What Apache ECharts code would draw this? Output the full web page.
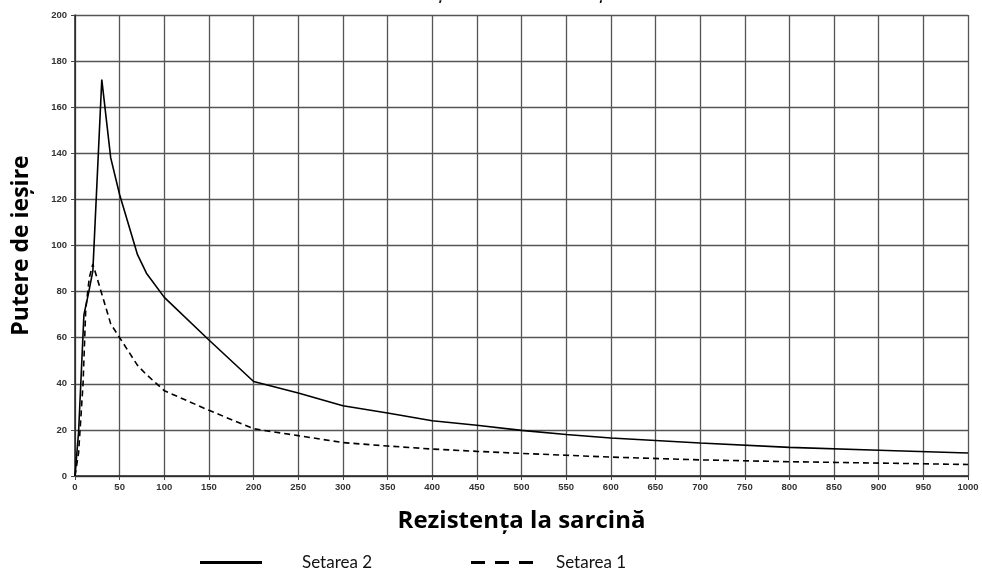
<!DOCTYPE html>
<html>
<head>
<meta charset="utf-8">
<script src="https://cdn.jsdelivr.net/npm/echarts@6/dist/echarts.min.js"></script>
<style>
  html, body { margin: 0; padding: 0; background: #fff; }
  #main { width: 982px; height: 576px; }
</style>
</head>
<body>
<div id="main"></div>
<script>
// Setarea 2 (linie continua)
var rezistenta2 = [0, 4, 10, 15, 20, 30, 40, 50, 70, 80, 100, 150, 200, 250, 300, 350, 400, 450, 500, 550, 600, 700, 800, 900, 1000];
var putere2 = [0, 19, 70, 79, 89, 172, 138, 122, 96, 88, 77.5, 59, 41, 36, 30.5, 27.3, 24, 22, 19.8, 18, 16.5, 14.3, 12.4, 11.2, 10];
// Setarea 1 (linie punctata)
var rezistenta1 = [0, 4, 9, 12, 16, 20, 30, 40, 50, 70, 80, 100, 150, 200, 250, 300, 350, 400, 450, 500, 550, 600, 700, 800, 900, 1000];
var putere1 = [0, 10, 40, 72, 86, 92, 79, 66, 60, 48, 44, 37, 28.5, 20.5, 17.5, 14.5, 13, 11.7, 10.7, 9.8, 9, 8.2, 7, 6.2, 5.6, 5];

function pairs(xs, ys) {
    return xs.map(function (x, i) { return [x, ys[i]]; });
}

var labelFont = '"Liberation Sans Narrow", "Liberation Sans", sans-serif';
var nameFont = '"Open Sans", Lato, sans-serif';
var legendFont = 'Lato, "Open Sans", sans-serif';

var chart = echarts.init(document.getElementById('main'));
chart.setOption({
    animation: false,
    // titlul original e taiat sus, se vad doar virgulele
    title: {
        text: 'Puterea de ieșire versus rezistența la sarcină',
        left: 320,
        top: -21,
        textStyle: { fontFamily: legendFont, fontSize: 19, fontWeight: 'bold', color: '#000' }
    },
    grid: { left: 75, right: 14, top: 15, bottom: 100 },
    legend: [
        {
            data: ['Setarea 2'],
            left: 195,
            top: 549,
            icon: 'rect',
            itemWidth: 62,
            itemHeight: 3,
            textStyle: { fontFamily: legendFont, fontSize: 17, color: '#111', padding: [0, 0, 0, 35] }
        },
        {
            data: ['Setarea 1'],
            left: 466,
            top: 549,
            icon: 'path://M0,0H14V3H0Z M24,0H38V3H24Z M48,0H62V3H48Z',
            itemWidth: 62,
            itemHeight: 3,
            textStyle: { fontFamily: legendFont, fontSize: 17, color: '#111', padding: [0, 0, 0, 18] }
        }
    ],
    xAxis: {
        type: 'value',
        min: 0,
        max: 1000,
        interval: 50,
        name: 'Rezistența la sarcină',
        nameLocation: 'middle',
        nameGap: 33,
        nameTextStyle: { fontFamily: nameFont, fontSize: 24, fontWeight: 'bold', color: '#000' },
        axisLine: { lineStyle: { color: '#222', width: 1.5 } },
        axisTick: { length: 4, lineStyle: { color: '#444' } },
        axisLabel: {
            fontFamily: labelFont, fontSize: 9.5, fontWeight: 'bold', color: '#333', margin: 6,
            formatter: function (v) { return String(v); }
        },
        splitLine: { lineStyle: { color: '#555', width: 1.3 } }
    },
    yAxis: {
        type: 'value',
        min: 0,
        max: 200,
        interval: 20,
        name: 'Putere de ieșire',
        nameLocation: 'middle',
        nameGap: 42,
        nameTextStyle: { fontFamily: nameFont, fontSize: 23, fontWeight: 'bold', color: '#000' },
        axisLine: { show: true, lineStyle: { color: '#222', width: 1.5 } },
        axisTick: { show: true, length: 4, lineStyle: { color: '#444' } },
        axisLabel: { fontFamily: labelFont, fontSize: 9.5, fontWeight: 'bold', color: '#333', margin: 8 },
        splitLine: { lineStyle: { color: '#555', width: 1.3 } }
    },
    series: [
        {
            name: 'Setarea 2',
            type: 'line',
            data: pairs(rezistenta2, putere2),
            symbol: 'none',
            lineStyle: { color: '#000', width: 1.6, type: 'solid' },
            itemStyle: { color: '#000' }
        },
        {
            name: 'Setarea 1',
            type: 'line',
            data: pairs(rezistenta1, putere1),
            symbol: 'none',
            lineStyle: { color: '#000', width: 1.6, type: [6, 4] },
            itemStyle: { color: '#000' }
        }
    ]
});
</script>
</body>
</html>
